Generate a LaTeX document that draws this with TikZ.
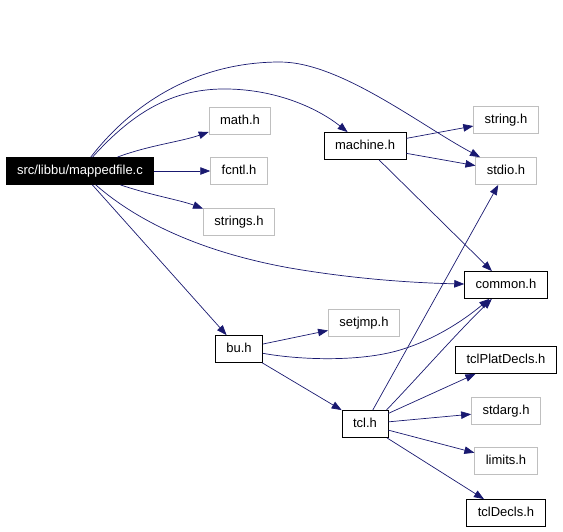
\documentclass[tikz,border=0pt]{standalone}
\usepackage{fontspec}
\setmainfont{Liberation Sans}
\usetikzlibrary{arrows.meta}
\definecolor{navy}{HTML}{191970}
\definecolor{rim}{HTML}{BFBFBF}
\tikzset{hdr/.style={draw=rim,line width=0.8pt,fill=white,font=\fontsize{13}{15}\selectfont,inner xsep=11pt,minimum height=27pt,text height=9pt,text depth=2.5pt}, doc/.style={hdr,draw=black}, root/.style={hdr,draw=black,fill=black,text=white}, arr/.style={-{Triangle[length=10pt,width=7.5pt]},draw=navy,fill=none,line width=0.7pt}}
\begin{document}
\begin{tikzpicture}[x=1pt,y=-1pt]
\useasboundingbox (0,0) rectangle (563,531);
\node[root](mapped) at (80,171){src/libbu/mappedfile.c};
\node[hdr](math) at (240,121){math.h};
\node[hdr](fcntl) at (239,171){fcntl.h};
\node[hdr](strings) at (239,222){strings.h};
\node[doc](machine) at (365,146){machine.h};
\node[hdr](stringh) at (506,120){string.h};
\node[hdr](stdio) at (506,171){stdio.h};
\node[doc](common) at (506,285){common.h};
\node[doc](bu) at (239,349){bu.h};
\node[hdr](setjmp) at (364,323){setjmp.h};
\node[doc](tcl) at (365,424){tcl.h};
\node[doc](tclplat) at (506,360){tclPlatDecls.h};
\node[hdr](stdarg) at (506,411){stdarg.h};
\node[hdr](limits) at (506,461){limits.h};
\node[doc](tcldecls) at (506,513){tclDecls.h};
\draw[arr](mapped) .. controls (135,100) and (200,62) .. (280,62) .. controls (340,62) and (420,125) .. (stdio);
\draw[arr](mapped) .. controls (135,110) and (175,88) .. (228,89) .. controls (280,90) and (320,110) .. (machine);
\draw[arr](mapped) .. controls (150,145) and (180,142) .. (math);
\draw[arr](mapped)--(fcntl);
\draw[arr](mapped) .. controls (150,195) and (180,200) .. (strings);
\draw[arr](mapped) .. controls (130,215) and (190,250) .. (290,268) .. controls (360,280) and (420,283) .. (common);
\draw[arr](mapped)--(bu);
\draw[arr](machine)--(stringh);\draw[arr](machine)--(stdio);\draw[arr](machine)--(common);
\draw[arr](bu)--(setjmp);
\draw[arr](bu) .. controls (300,360) and (360,362) .. (400,350) .. controls (440,338) and (470,315) .. (common);
\draw[arr](bu)--(tcl);
\draw[arr](tcl)--(stdio);\draw[arr](tcl.33) .. controls (420,375) and (455,335) .. (common);
\draw[arr](tcl)--(tclplat);\draw[arr](tcl)--(stdarg);\draw[arr](tcl)--(limits);\draw[arr](tcl)--(tcldecls);
\end{tikzpicture}
\end{document}
